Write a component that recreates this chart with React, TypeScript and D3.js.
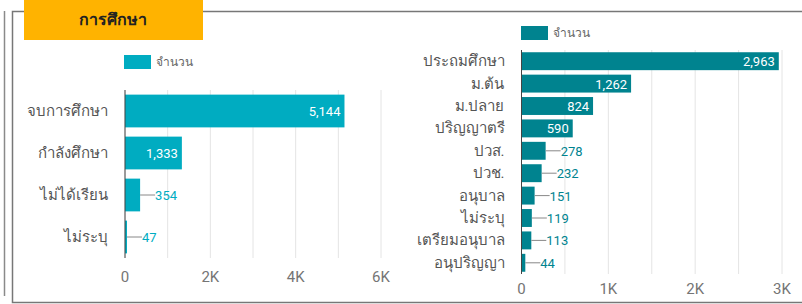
import React from "react";
import * as d3 from "d3";

// left chart: status
const statusCats = ["จบการศึกษา", "กำลังศึกษา", "ไม่ได้เรียน", "ไม่ระบุ"];
const statusVals = [5144, 1333, 354, 47];
const statusTicks = [0, 2000, 4000, 6000];

// right chart: level
const levelCats = ["ประถมศึกษา", "ม.ต้น", "ม.ปลาย", "ปริญญาตรี", "ปวส.", "ปวช.", "อนุบาล", "ไม่ระบุ", "เตรียมอนุบาล", "อนุปริญญา"];
const levelVals = [2963, 1262, 824, 590, 278, 232, 151, 119, 113, 44];
const levelTicks = [0, 1000, 2000, 3000];

const legendLabel = "จำนวน";
const title = "การศึกษา";

const FONT = "Roboto, 'Noto Sans', sans-serif";
const fmt = d3.format(",");
const kfmt = (v: number) => (v === 0 ? "0" : `${v / 1000}K`);

type BarProps = {
  cats: string[];
  vals: number[];
  ticks: number[];
  maxVal: number;
  gridStep: number;
  x0: number;
  x1: number;
  y0: number;
  y1: number;
  color: string;
  labelSize: number;
  tickY: number;
  legendX: number;
  legendY: number;
  padding: number;
};

function BarChart(p: BarProps) {
  const x = d3.scaleLinear().domain([0, p.maxVal]).range([p.x0, p.x1]);
  const y = d3.scaleBand().domain(p.cats).range([p.y0, p.y1]).paddingInner(p.padding).paddingOuter(p.padding / 2);
  const grid = d3.range(0, p.maxVal + 1, p.gridStep);
  return (
    <g>
      <rect x={p.legendX} y={p.legendY} width={27} height={14} fill={p.color} />
      <text x={p.legendX + 32} y={p.legendY + 11} fontSize={12} fill="#666" fontFamily={FONT}>
        {legendLabel}
      </text>
      {grid.map((g) => (
        <line key={g} x1={x(g)} x2={x(g)} y1={p.y0} y2={p.y1} stroke="#e4e4e4" strokeWidth={1} />
      ))}
      {p.ticks.map((t) => (
        <text key={t} x={x(t)} y={p.tickY} textAnchor="middle" fontSize={15} fill="#757575" fontFamily={FONT}>
          {kfmt(t)}
        </text>
      ))}
      {p.cats.map((c, i) => {
        const v = p.vals[i];
        const by = y(c)!;
        const bh = y.bandwidth();
        const xe = x(v);
        const label = fmt(v);
        const lw = label.length * 7.6;
        const inside = xe - p.x0 > lw + 12;
        const cy = by + bh / 2;
        return (
          <g key={c}>
            <rect x={p.x0} y={by} width={xe - p.x0} height={bh} fill={p.color} />
            <text x={p.x0 - 17} y={cy + 5} textAnchor="end" fontSize={p.labelSize} fill="#555" fontFamily={FONT}>
              {c}
            </text>
            {inside ? (
              <text x={xe - 4} y={cy + 5} textAnchor="end" fontSize={13} fill="#fff" fontFamily={FONT}>
                {label}
              </text>
            ) : (
              <g>
                <line x1={xe} x2={xe + 15} y1={cy} y2={cy} stroke="#888" strokeWidth={1} />
                <text x={xe + 15} y={cy + 5} fontSize={13} fill={p.color} fontFamily={FONT}>
                  {label}
                </text>
              </g>
            )}
          </g>
        );
      })}
      <line x1={p.x0} x2={p.x0} y1={p.y0} y2={p.y1} stroke="#444" strokeWidth={1} />
    </g>
  );
}

export default function App() {
  return (
    <svg width={802} height={304} style={{ position: "absolute", left: 0, top: 0, background: "#fff" }}>
      <rect x={0} y={0} width={802} height={304} fill="#fff" />
      <line x1={4.5} x2={4.5} y1={11} y2={296} stroke="#8a8a8a" strokeWidth={1.5} />
      <rect x={12.5} y={11.5} width={800} height={291} fill="none" stroke="#777" strokeWidth={1.5} />
      <rect x={24} y={0} width={179} height={40} fill="#FFB300" />
      <text x={113} y={25} textAnchor="middle" fontSize={16} fontWeight="bold" fill="#222" fontFamily={FONT}>
        {title}
      </text>
      <BarChart
        cats={statusCats}
        vals={statusVals}
        ticks={statusTicks}
        maxVal={6000}
        gridStep={1000}
        x0={125}
        x1={381}
        y0={90}
        y1={258}
        color="#00ACC1"
        labelSize={15}
        tickY={282}
        legendX={124}
        legendY={55}
        padding={0.22}
      />
      <BarChart
        cats={levelCats}
        vals={levelVals}
        ticks={levelTicks}
        maxVal={3000}
        gridStep={500}
        x0={521.5}
        x1={782}
        y0={50}
        y1={274}
        color="#00838F"
        labelSize={15}
        tickY={294}
        legendX={521}
        legendY={26}
        padding={0.2}
      />
    </svg>
  );
}
